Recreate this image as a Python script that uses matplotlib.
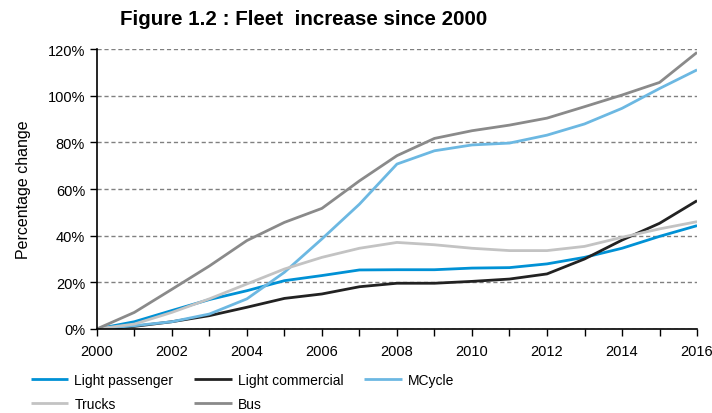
import numpy as np
import matplotlib.pyplot as plt

plt.rcParams['font.family'] = ['Liberation Sans', 'DejaVu Sans']

# Data (percentage change since 2000)
years = np.arange(2000, 2017)
light_passenger = [0, 3.1, 7.9, 12.6, 16.4, 20.7, 22.9, 25.3, 25.4, 25.4, 26.1, 26.3, 27.9, 30.7, 34.6, 39.7, 44.3]
light_commercial = [0, 1.1, 3.1, 5.7, 9.3, 13.1, 15.0, 18.1, 19.6, 19.6, 20.4, 21.4, 23.6, 30.0, 38.1, 45.3, 55.0]
mcycle = [0, 1.4, 3.1, 6.4, 12.9, 24.3, 38.6, 53.5, 70.7, 76.4, 78.9, 79.7, 83.1, 87.9, 94.6, 103.1, 111.1]
trucks = [0, 2.1, 7.1, 12.9, 19.3, 25.7, 30.7, 34.6, 37.1, 36.1, 34.6, 33.6, 33.6, 35.4, 39.3, 42.9, 46.0]
bus = [0, 7.1, 17.0, 27.0, 37.9, 45.7, 51.7, 63.5, 74.3, 81.7, 85.0, 87.4, 90.4, 95.3, 100.3, 105.7, 118.6]

series = [
    ('Light passenger', light_passenger, '#0091d5'),
    ('Light commercial', light_commercial, '#222222'),
    ('MCycle', mcycle, '#6cb8e2'),
    ('Trucks', trucks, '#c3c3c3'),
    ('Bus', bus, '#8a8a8a'),
]
yticks = [0, 20, 40, 60, 80, 100, 120]
xticks = [2000, 2002, 2004, 2006, 2008, 2010, 2012, 2014, 2016]

################################################################
# Plot
fig = plt.figure(figsize=(7.12, 4.14), dpi=100)
ax = fig.add_axes([0.136, 0.203, 0.843, 0.676])

lines = {}
for name, vals, col in series:
    lines[name], = ax.plot(years, vals, color=col, lw=2.0, label=name, solid_capstyle='butt')

ax.set_xlim(2000, 2016)
ax.set_ylim(0, 120)
ax.set_yticks(yticks)
ax.set_yticklabels(['{:d}%'.format(v) for v in yticks])
ax.set_xticks(years, minor=True)
ax.set_xticks(xticks)
ax.tick_params(axis='both', which='both', direction='out', length=5, width=1,
               labelsize=10.5, color='black')
ax.tick_params(axis='x', which='both', pad=6)
ax.yaxis.grid(True, ls=(0, (3, 2)), color='#808080', lw=1)
ax.set_axisbelow(True)
for s in ['top', 'right']:
    ax.spines[s].set_visible(False)
for s in ['left', 'bottom']:
    ax.spines[s].set_linewidth(1.2)

ax.set_ylabel('Percentage change', fontsize=11.5, labelpad=12)

fig.text(0.426, 0.952, 'Figure 1.2 : Fleet  increase since 2000', ha='center', va='center',
         fontsize=14.8, fontweight='bold')

# legend filled row by row: 3 columns
order = ['Light passenger', 'Trucks', 'Light commercial', 'Bus', 'MCycle']
fig.legend([lines[n] for n in order], order, loc='upper left', bbox_to_anchor=(0.043, 0.097),
           ncol=3, frameon=False, fontsize=10, handlelength=2.7, handletextpad=0.45,
           columnspacing=1.5, labelspacing=0.75, borderaxespad=0, borderpad=0)

plt.savefig('out.png', dpi=100)
